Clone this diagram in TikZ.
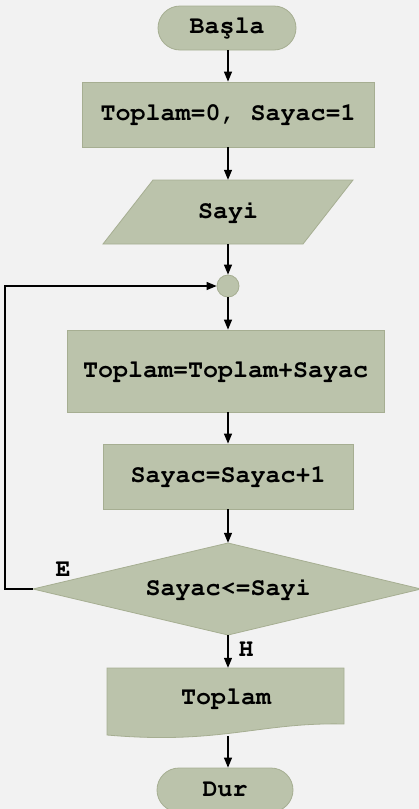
\documentclass[tikz,border=0pt]{standalone}
\usepackage[T1,TU]{fontenc}
\usetikzlibrary{arrows.meta}
\definecolor{bgc}{HTML}{F2F2F2}
\definecolor{boxc}{RGB}{187,195,171}
\definecolor{edgec}{RGB}{166,174,146}
\newcommand{\crfont}{\fontencoding{T1}\fontfamily{pcr}\fontseries{b}\fontshape{n}\fontsize{25}{30}\selectfont}
\begin{document}
\begin{tikzpicture}[x=1pt,y=-1pt,
  box/.style={fill=boxc,draw=edgec,line width=0.8pt},
  txt/.style={font=\crfont,inner sep=0pt},
  arr/.style={draw=black,line width=1.2pt,-{Triangle[length=10pt,width=8pt]}},
]
\fill[bgc] (0,0) rectangle (419,809);
\useasboundingbox (0,0) rectangle (419,809);
\coordinate (ax) at (228,0);
\coordinate (lx) at (5,0);
% shapes
\node[box,txt,rectangle,rounded corners=22pt,minimum width=138pt,minimum height=44pt] (start) at (227,28) {Ba\c{s}la};
\node[box,txt,rectangle,minimum width=292pt,minimum height=65pt] (init) at (228,114.5) {Toplam=0, Sayac=1};
\draw[box] (153,180) -- (353,180) -- (303,244) -- (103,244) -- cycle;
\node[txt,minimum width=200pt,minimum height=64pt] (input) at (228,212) {Sayi};
\node[box,circle,minimum size=22pt,inner sep=0pt] (join) at (228,286) {};
\node[box,txt,rectangle,minimum width=317pt,minimum height=82pt] (sum) at (225.5,371) {Toplam=Toplam+Sayac};
\node[box,txt,rectangle,minimum width=250pt,minimum height=65pt] (inc) at (228,476.5) {Sayac=Sayac+1};
\draw[box] (33,589) -- (228,543) -- (421,589) -- (228,635) -- cycle;
\node[txt,rectangle,minimum width=390pt,minimum height=92pt] (dec) at (228,589) {Sayac<=Sayi};
\draw[box] (107,668) -- (344,668) -- (344,724) .. controls (260,722) and (220,745) .. (107,735) -- cycle;
\node[txt,minimum width=237pt,minimum height=60pt] (out) at (226,698) {Toplam};
\coordinate (outb) at (228,736);
\node[box,txt,rectangle,rounded corners=22pt,minimum width=136pt,minimum height=44pt] (stop) at (225,790) {Dur};
% labels
\node[txt] (lblE) at (63,570) {E};
\node[txt] (lblH) at (246,650) {H};
% connectors
\draw[arr] (start.south -| ax) -- (init.north -| ax);
\draw[arr] (init.south -| ax) -- (input.north -| ax);
\draw[arr] (input.south -| ax) -- (join.north);
\draw[arr] (join.south) -- (sum.north -| ax);
\draw[arr] (sum.south -| ax) -- (inc.north -| ax);
\draw[arr] (inc.south -| ax) -- (dec.north -| ax);
\draw[arr] (dec.south -| ax) -- (out.north -| ax);
\draw[arr] (outb) -- (stop.north -| ax);
\draw[arr] (dec.west) -- (dec.west -| lx) |- (join.west);
\end{tikzpicture}
\end{document}
